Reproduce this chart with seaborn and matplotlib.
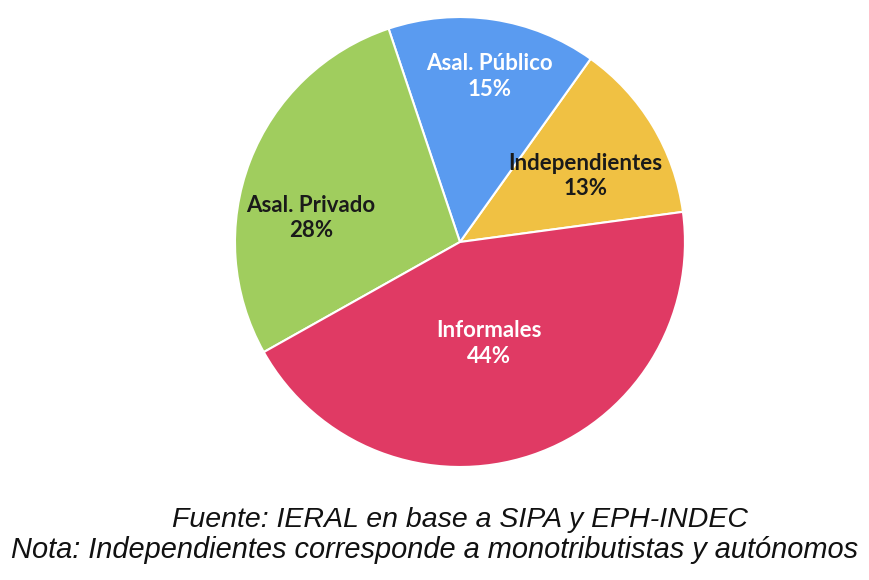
import matplotlib.pyplot as plt
import seaborn as sns
import numpy as np

# Distribución del empleo por categoría (%)
categorias = ['Independientes', 'Asal. Público', 'Asal. Privado', 'Informales']
porcentajes = [13, 15, 28, 44]
colores = ['#F0C143', '#5A9BF0', '#A0CD5E', '#E03A64']
color_texto = ['#1a1a1a', 'white', '#1a1a1a', 'white']

fuente = 'Fuente: IERAL en base a SIPA y EPH-INDEC'
nota = 'Nota: Independientes corresponde a monotributistas y autónomos'

sns.set_theme(style='white')
plt.rcParams['font.family'] = ['Lato', 'DejaVu Sans']

fig = plt.figure(figsize=(8.7, 5.8), dpi=100)
ax = fig.add_axes([0.2701, 0.1948, 0.5172, 0.7759])

wedges, _ = ax.pie(porcentajes, colors=colores, startangle=7.7, counterclock=True,
                   radius=1, wedgeprops=dict(edgecolor='white', linewidth=1.5))
ax.set_xlim(-1, 1)
ax.set_ylim(-1, 1)
ax.set_aspect('equal')
ax.axis('off')

# label placement relative to each wedge (radius factor, angle shift)
label_r = [0.63, 0.747, 0.67, 0.47]
label_dtheta = [-3.5, -1.5, 12, -2.4]

for w, cat, pct, tc, r, dt in zip(wedges, categorias, porcentajes, color_texto, label_r, label_dtheta):
    ang = np.deg2rad((w.theta1 + w.theta2) / 2 + dt)
    ax.text(r * np.cos(ang), r * np.sin(ang), f'{cat}\n{pct}%', ha='center', va='center',
            fontsize=16, fontweight='bold', color=tc, linespacing=1.25)

fig.text(0.529, 0.103, fuente, ha='center', va='center', fontsize=20.5,
         style='italic', family='Liberation Sans', color='#111111')
fig.text(0.5, 0.052, nota, ha='center', va='center', fontsize=20.9,
         style='italic', family='Liberation Sans', color='#111111')

plt.savefig('out.png', dpi=100)
